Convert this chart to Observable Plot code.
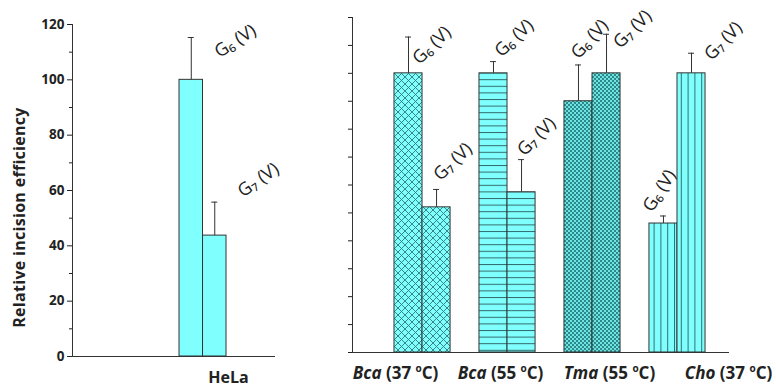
<!DOCTYPE html>
<html><head><meta charset="utf-8">
<script src="https://cdn.jsdelivr.net/npm/d3@7"></script>
<script src="https://cdn.jsdelivr.net/npm/@observablehq/plot@0.6"></script>
<style>
body{margin:0;background:#fff;}
#chart{position:relative;width:776px;height:392px;font-family:"Open Sans",sans-serif;}
#left{position:absolute;left:0;top:0;}
#right{position:absolute;left:300px;top:0;}
g[aria-label="y-axis tick label"] text{font-weight:bold;}
</style></head><body>
<div id="chart"><div id="left"></div><div id="right"></div></div>
<script>
// ---------- data ----------
const leftGroups = ["HeLa"];
const rightGroups = ["Bca (37 °C)", "Bca (55 °C)", "Tma (55 °C)", "Cho (37 °C)"];
const seriesNames = ["G₆ (V)", "G₇ (V)"];
const helaG6 = [100];
const helaG7 = [43.7];
const helaG6Err = [15.3];
const helaG7Err = [12.1];
const rightG6 = [100, 100, 90, 46.2];
const rightG7 = [52, 57.4, 100, 100];
const rightG6Err = [13, 4.2, 13, 2.7];
const rightG7Err = [6.4, 11.7, 14, 7.2];
const yMajorTicks = [0, 20, 40, 60, 80, 100, 120];
const yMinorTicks = [10, 30, 50, 70, 90, 110];
const yAllTicks = [0, 10, 20, 30, 40, 50, 60, 70, 80, 90, 100, 110, 120];
const yTitle = "Relative incision efficiency";

// ---------- layout / style ----------
const W = 0.33; // bar width in group units
const leftFills = ["#80ffff"];
const rightFills = ["url(#pat-cross)", "url(#pat-h)", "url(#pat-check)", "url(#pat-v)"];
const leftLabelLayout = [[{dx: 25, dy: 16, r: -33}, {dx: 25, dy: -9, r: -35}]];
const rightLabelLayout = [
  [{dx: 7, dy: 24, r: -44}, {dx: 0, dy: -12, r: -44}],
  [{dx: 4, dy: -8, r: -43}, {dx: -1, dy: -7, r: -45}],
  [{dx: -4, dy: -9, r: -48}, {dx: 10, dy: 11, r: -45}],
  [{dx: -16, dy: -6, r: -58}, {dx: 16, dy: 4, r: -46}]
];
const leftGroupDx = [25.5];
const rightGroupDx = [-27, -7, 17, 51];

function rowsOf(groups, g6, g7, e6, e7, fills) {
  return groups.flatMap((g, i) => [
    {g, i, s: seriesNames[0], v: g6[i], e: e6[i], x1: i - W, x2: i, fill: fills[i], k: 0},
    {g, i, s: seriesNames[1], v: g7[i], e: e7[i], x1: i, x2: i + W, fill: fills[i], k: 1}
  ].map(d => ({...d, cx: (d.x1 + d.x2) / 2})));
}

function panel({groups, rows, layout, groupDx, xDomain, width, marginLeft, marginRight, marginTop, marginBottom, cap, left, groupFont}) {
  const marks = [
    Plot.rect(rows, {x1: "x1", x2: "x2", y1: () => 0, y2: "v", fill: "fill", stroke: "#333", strokeWidth: 1}),
    Plot.ruleX(rows, {x: "cx", y1: "v", y2: d => d.v + d.e, stroke: "#333", strokeWidth: 1}),
    Plot.ruleY(rows, {y: d => d.v + d.e, x1: d => d.cx - cap, x2: d => d.cx + cap, stroke: "#333", strokeWidth: 1}),
    Plot.ruleY([0], {stroke: "#333", strokeWidth: 1}),
    Plot.ruleX([xDomain[0]], {stroke: "#333", strokeWidth: 1}),
    ...rows.map(d => Plot.text([d], {
      x: "cx", y: r => r.v + r.e, text: "s",
      dx: layout[d.i][d.k].dx, dy: layout[d.i][d.k].dy, rotate: layout[d.i][d.k].r,
      textAnchor: "start", fontSize: 18, fill: "#222"
    })),
    ...groups.map((g, i) => Plot.text([g], {
      x: () => i, frameAnchor: "bottom", dy: 26, dx: groupDx[i], text: d => d,
      fontSize: groupFont, fontWeight: "bold", fill: "#222"
    }))
  ];
  if (left) {
    marks.push(
      Plot.axisY(yMajorTicks, {tickSize: 5, tickPadding: 3, label: null, fontSize: 13.5}),
      Plot.axisY(yMinorTicks, {tickSize: 3, text: null, label: null}),
      Plot.text([yTitle], {frameAnchor: "left", textAnchor: "middle", rotate: -90, dx: -53, dy: 27, fontSize: 16, fontWeight: "bold", fill: "#222"})
    );
  } else {
    marks.push(Plot.axisY(yAllTicks, {tickSize: 4, text: null, label: null}));
  }
  return Plot.plot({
    width, height: 392, marginLeft, marginRight, marginTop, marginBottom,
    style: {fontFamily: "'Open Sans', sans-serif", fontSize: "13px", color: "#222", background: "transparent"},
    x: {type: "linear", domain: xDomain, axis: null},
    y: {domain: [0, 120], label: null},
    color: {type: "identity"},
    marks
  });
}

function addPatterns(svg) {
  const defs = d3.select(svg).insert("defs", ":first-child");
  const p1 = defs.append("pattern").attr("id", "pat-cross").attr("patternUnits", "userSpaceOnUse").attr("width", 7).attr("height", 7);
  p1.append("rect").attr("width", 7).attr("height", 7).attr("fill", "#80ffff");
  p1.append("path").attr("d", "M0,0L7,7M7,0L0,7").attr("stroke", "#2e7a7a").attr("stroke-width", 0.9);
  const p2 = defs.append("pattern").attr("id", "pat-h").attr("patternUnits", "userSpaceOnUse").attr("width", 10).attr("height", 6.6);
  p2.append("rect").attr("width", 10).attr("height", 6.6).attr("fill", "#80ffff");
  p2.append("path").attr("d", "M0,0.5H10").attr("stroke", "#336b6b").attr("stroke-width", 1);
  const p3 = defs.append("pattern").attr("id", "pat-check").attr("patternUnits", "userSpaceOnUse").attr("width", 4).attr("height", 4);
  p3.append("rect").attr("width", 4).attr("height", 4).attr("fill", "#6fe2e2");
  p3.append("rect").attr("width", 2).attr("height", 2).attr("fill", "#2c8a8a");
  p3.append("rect").attr("x", 2).attr("y", 2).attr("width", 2).attr("height", 2).attr("fill", "#2c8a8a");
  const p4 = defs.append("pattern").attr("id", "pat-v").attr("patternUnits", "userSpaceOnUse").attr("width", 6.8).attr("height", 10);
  p4.append("rect").attr("width", 6.8).attr("height", 10).attr("fill", "#80ffff");
  p4.append("path").attr("d", "M0.5,0V10").attr("stroke", "#2e7070").attr("stroke-width", 1);
}

function styleText(svg) {
  d3.select(svg).selectAll("text").each(function() {
    const t = d3.select(this);
    const s = this.textContent;
    const m = s.match(/^(\S+) \((\d+) °C\)$/);
    if (m) {
      t.text(null);
      t.append("tspan").attr("font-style", "italic").text(m[1]);
      t.append("tspan").text(" (" + m[2] + " ");
      t.append("tspan").attr("font-size", "10px").attr("dy", "-7").text("o");
      t.append("tspan").attr("dy", "7").text("C)");
    } else if (s === yTitle) {
      t.style("letter-spacing", "0.3px");
    }
  });
}

const leftRows = rowsOf(leftGroups, helaG6, helaG7, helaG6Err, helaG7Err, leftFills);
const rightRows = rowsOf(rightGroups, rightG6, rightG7, rightG6Err, rightG7Err, rightFills);

const leftSvg = panel({groups: leftGroups, rows: leftRows, layout: leftLabelLayout, groupDx: leftGroupDx,
  xDomain: [-1.833, 1.018], width: 300, marginLeft: 72, marginRight: 25, marginTop: 24, marginBottom: 36,
  cap: 0.042, left: true, groupFont: 16});
const rightSvg = panel({groups: rightGroups, rows: rightRows, layout: rightLabelLayout, groupDx: rightGroupDx,
  xDomain: [-0.824, 3.612], width: 476, marginLeft: 52, marginRight: 47, marginTop: 17, marginBottom: 40,
  cap: 0.035, left: false, groupFont: 17});
addPatterns(rightSvg);
styleText(leftSvg);
styleText(rightSvg);
document.getElementById("left").appendChild(leftSvg);
document.getElementById("right").appendChild(rightSvg);
</script>
</body></html>
